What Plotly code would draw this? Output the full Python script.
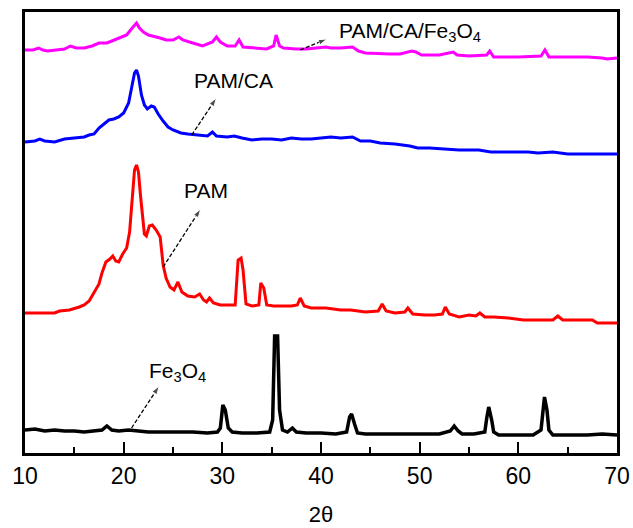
import plotly.graph_objects as go

# ---- data (2theta, intensity a.u. incl. stacking offset) ----
fe_x = [10.0, 11.0, 12.0, 13.0, 14.0, 15.0, 16.0, 17.0, 17.8, 18.3, 18.8, 19.5, 20.5, 21.5, 22.5, 24.0,
        25.5, 27.0, 28.5, 29.5, 29.8, 30.05, 30.3, 30.6, 31.0, 32.0, 33.5, 34.8, 35.1, 35.3, 35.6, 35.8,
        36.1, 36.6, 37.1, 37.5, 38.5, 40.0, 41.5, 42.6, 42.9, 43.1, 43.4, 43.7, 44.5, 46.0, 48.0, 50.0,
        52.0, 53.1, 53.5, 53.9, 54.3, 55.5, 56.6, 56.8, 57.0, 57.3, 57.5, 58.0, 60.0, 61.5, 62.3, 62.5,
        62.65, 62.9, 63.1, 63.5, 65.0, 67.0, 68.5, 70.0]
fe_y = [23, 24, 22, 23, 22, 22, 21, 22, 23, 27, 23, 22, 23, 22, 21, 21,
        21, 21, 20, 21, 25, 48, 43, 25, 21, 20, 20, 21, 33, 117, 117, 43,
        23, 21, 25, 21, 20, 20, 19, 21, 36, 39, 29, 20, 19, 19, 19, 19,
        19, 22, 27, 22, 19, 19, 21, 35, 46, 33, 21, 18, 18, 18, 23, 48,
        56, 43, 23, 18, 18, 18, 19, 18]

pam_x = [10.0, 11.0, 12.0, 13.0, 13.5, 14.5, 15.5, 16.0, 16.5, 17.0, 17.5, 17.8, 18.2, 18.6, 18.9, 19.2,
         19.5, 19.9, 20.3, 20.6, 20.9, 21.1, 21.3, 21.5, 21.7, 21.9, 22.1, 22.3, 22.6, 22.9, 23.3, 23.7,
         24.0, 24.3, 24.7, 25.1, 25.5, 25.9, 26.5, 27.2, 27.7, 28.1, 28.4, 28.7, 29.1, 29.8, 30.5, 31.3,
         31.6, 31.9, 32.1, 32.4, 33.0, 33.7, 33.9, 34.2, 34.5, 35.2, 36.0, 37.0, 37.6, 37.9, 38.3, 39.0,
         40.5, 42.0, 43.0, 44.5, 45.8, 46.2, 46.6, 47.5, 48.5, 48.8, 49.3, 50.5, 51.5, 52.3, 52.6, 53.0,
         54.0, 55.0, 55.7, 56.1, 56.6, 57.5, 59.0, 60.5, 62.0, 63.5, 64.0, 64.5, 66.0, 67.5, 68.0, 70.0]
pam_y = [140, 140, 140, 140, 142, 143, 146, 148, 152, 160, 169, 180, 191, 194, 197, 192,
         191, 199, 205, 221, 263, 283, 288, 281, 258, 235, 219, 217, 227, 228, 223, 216,
         188, 175, 166, 163, 171, 161, 157, 156, 159, 153, 151, 155, 150, 148, 148, 148,
         193, 195, 183, 149, 147, 148, 170, 165, 148, 147, 147, 147, 148, 155, 147, 145,
         145, 143, 143, 141, 142, 149, 142, 140, 141, 145, 139, 138, 138, 139, 146, 139,
         136, 138, 137, 140, 136, 136, 135, 133, 133, 133, 137, 133, 133, 133, 130, 130]

ca_x = [10.0, 11.0, 11.5, 12.0, 13.0, 14.0, 15.0, 16.0, 16.5, 17.0, 17.5, 18.0, 18.5, 19.0, 19.5, 20.0,
        20.5, 20.8, 21.1, 21.3, 21.5, 21.8, 22.1, 22.4, 22.8, 23.1, 23.5, 24.0, 24.5, 25.0, 25.8, 26.5,
        27.5, 28.5, 29.0, 29.4, 30.5, 31.2, 32.0, 33.0, 34.0, 35.0, 36.0, 37.0, 38.0, 39.0, 40.0, 41.0,
        42.0, 43.2, 44.0, 45.0, 46.0, 47.5, 49.0, 49.8, 51.0, 52.5, 54.0, 56.0, 57.2, 59.0, 61.0, 62.0,
        63.5, 65.0, 67.0, 70.0]
ca_y = [311, 312, 314, 312, 311, 314, 315, 316, 318, 319, 325, 329, 333, 334, 336, 340,
        350, 365, 380, 383, 377, 358, 348, 344, 347, 346, 339, 332, 326, 323, 320, 319,
        318, 317, 321, 317, 316, 317, 315, 313, 314, 314, 313, 315, 314, 314, 315, 316,
        315, 316, 312, 312, 310, 309, 307, 305, 305, 304, 303, 303, 301, 301, 301, 300,
        301, 299, 299, 299]

cafe_x = [10.0, 10.8, 11.4, 11.8, 12.3, 13.0, 14.0, 14.6, 15.2, 16.0, 16.8, 17.5, 18.3, 18.8, 19.3, 19.8,
          20.3, 20.7, 21.0, 21.3, 21.6, 22.0, 22.5, 23.0, 23.7, 24.3, 25.0, 25.6, 26.0, 27.0, 28.0, 29.0,
          29.4, 29.8, 30.5, 31.3, 31.7, 32.1, 33.0, 34.5, 35.2, 35.45, 35.8, 36.2, 37.5, 38.5, 39.5, 40.5,
          41.0, 42.0, 43.2, 43.8, 44.5, 46.0, 47.0, 48.0, 49.2, 49.6, 50.2, 52.0, 53.1, 53.4, 53.8, 55.0,
          56.8, 57.1, 57.5, 60.0, 62.3, 62.7, 63.1, 65.0, 67.0, 68.5, 69.0, 70.0]
cafe_y = [403, 403, 405, 403, 402, 403, 404, 407, 405, 405, 407, 410, 410, 412, 414, 416,
          418, 423, 427, 430, 425, 421, 418, 417, 415, 413, 413, 416, 413, 410, 407, 411,
          416, 411, 407, 407, 413, 406, 405, 404, 407, 418, 407, 405, 404, 404, 405, 406,
          405, 405, 406, 402, 400, 399, 399, 399, 402, 401, 398, 398, 400, 401, 398, 397,
          398, 402, 396, 396, 397, 403, 396, 396, 396, 395, 394, 395]

labels = ["Fe<sub>3</sub>O<sub>4</sub>", "PAM", "PAM/CA", "PAM/CA/Fe<sub>3</sub>O<sub>4</sub>"]
x_ticks = [10, 20, 30, 40, 50, 60, 70]

fig = go.Figure()
series = [(fe_x, fe_y, "#000000", 3.5), (pam_x, pam_y, "#FF0000", 3),
          (ca_x, ca_y, "#0000FF", 3), (cafe_x, cafe_y, "#FF00FF", 3)]
for (xs, ys, col, w), name in zip(series, labels):
    fig.add_trace(go.Scatter(x=xs, y=ys, mode="lines", name=name,
                             line=dict(color=col, width=w), showlegend=False))

font = "Liberation Sans, Arial, sans-serif"
# text labels (left-anchored) and arrows (tail -> head)
txt = [(22.4, 81, labels[0]), (25.9, 263, labels[1]), (26.9, 373, labels[2]), (41.6, 421, labels[3])]
arrows = [((20.8, 25), (23.6, 67)), ((24.0, 186), (27.8, 244)),
          ((26.9, 318), (29.4, 355)), ((37.9, 403), (40.6, 414))]
for (tx, ty, t) in txt:
    fig.add_annotation(x=tx, y=ty, text=t, showarrow=False, xanchor="left", yanchor="middle",
                       font=dict(family=font, size=21, color="#000000"))
for (tail, head) in arrows:
    fig.add_trace(go.Scatter(x=[tail[0], head[0]], y=[tail[1], head[1]], mode="lines+markers",
                             line=dict(color="#000000", width=1.3, dash="4px,2px"),
                             marker=dict(symbol=["circle", "arrow"], size=[0, 9],
                                         angleref="previous", color="#000000"),
                             showlegend=False, hoverinfo="skip"))

fig.update_layout(
    width=633, height=528, plot_bgcolor="white", paper_bgcolor="white",
    margin=dict(l=25, r=16, t=12, b=75),
    font=dict(family=font, size=23, color="#000000"),
    xaxis=dict(range=[10, 70], tickvals=x_ticks, ticks="inside", ticklen=11, tickwidth=2,
               tickcolor="#000000", showline=True, linewidth=3, linecolor="#000000", mirror=True,
               showgrid=False, zeroline=False, automargin=False,
               minor=dict(ticks="inside", ticklen=6, tickwidth=2, dtick=5, tick0=10,
                          tickcolor="#000000", showgrid=False),
               title=dict(text="2θ", font=dict(size=22), standoff=20),
               tickfont=dict(size=23)),
    yaxis=dict(range=[0, 441], showticklabels=False, ticks="", showline=True, linewidth=3,
               linecolor="#000000", mirror=True, showgrid=False, zeroline=False, automargin=False),
)
fig.write_html("out.html")
